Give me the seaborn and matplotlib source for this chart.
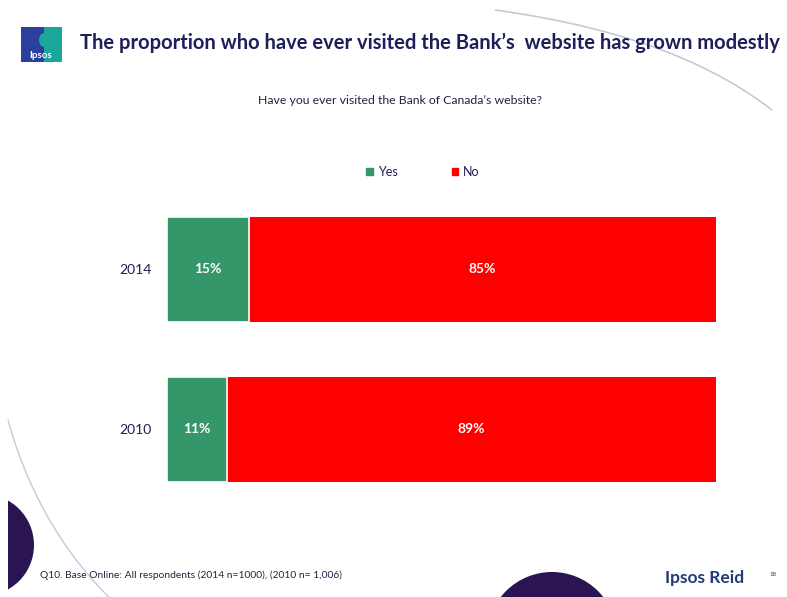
import matplotlib
matplotlib.use("Agg")
import matplotlib.pyplot as plt
import matplotlib.patches as mpatches
from matplotlib.path import Path
import seaborn as sns
import pandas as pd

# Survey results
years = ["2014", "2010"]
yes_pct = [15, 11]
no_pct = [85, 89]
series_names = ["Yes", "No"]
colors = {"Yes": "#35966A", "No": "#FF0000"}

W, H = 787, 597
sns.set_theme(style="white")
plt.rcParams["font.family"] = ["Lato", "DejaVu Sans"]

fig = plt.figure(figsize=(W / 100, H / 100), dpi=100)
fig.patch.set_facecolor("white")

def fx(px):
    return px / W

def fy(py):
    return 1 - py / H

navy = "#1E1E5A"

# --- background decorations ---
deco = fig.add_axes([0, 0, 1, 1], zorder=0)
deco.set_xlim(0, W)
deco.set_ylim(H, 0)
deco.axis("off")
deco.add_patch(mpatches.Circle((-17, 545), 51, color="#2A1452", lw=0))
deco.add_patch(mpatches.Rectangle((0, 480), 8, 120, color="white", lw=0, zorder=2))
deco.add_patch(mpatches.Circle((552, 637), 65, color="#2A1452", lw=0))
curve1 = Path([(495, 10), (640, 30), (720, 70), (772, 110)],
              [Path.MOVETO, Path.CURVE4, Path.CURVE4, Path.CURVE4])
deco.add_patch(mpatches.PathPatch(curve1, fill=False, ec="#C8C8D8", lw=1.2))
curve2 = Path([(8, 420), (30, 500), (70, 560), (112, 600)],
              [Path.MOVETO, Path.CURVE4, Path.CURVE4, Path.CURVE4])
deco.add_patch(mpatches.PathPatch(curve2, fill=False, ec="#C8C8D8", lw=1.0))

# logo
deco.add_patch(mpatches.Rectangle((21, 27), 41, 35, color="#2B3F9C", lw=0))
deco.add_patch(mpatches.Rectangle((44, 27), 18, 35, color="#19A79C", lw=0))
deco.add_patch(mpatches.Ellipse((44, 40), 10, 14, color="#19A79C", lw=0))
deco.text(41, 55, "Ipsos", color="white", fontsize=7, fontweight="bold",
          ha="center", va="center")

# --- titles ---
fig.text(fx(80), fy(43), "The proportion who have ever visited the Bank\u2019s  website has grown modestly",
         fontsize=14.5, fontweight="bold", color=navy, ha="left", va="center")
fig.text(fx(400), fy(101), "Have you ever visited the Bank of Canada\u2019s website?",
         fontsize=8.8, color="#222244", ha="center", va="center")

# --- bar chart ---
df = pd.DataFrame({"year": years, "Yes": yes_pct, "No": no_pct})
df["total"] = df["Yes"] + df["No"]

ax = fig.add_axes([fx(167), fy(500), fx(716) - fx(167), (500 - 200) / H], zorder=1)
ax.patch.set_alpha(0)
sns.barplot(data=df, y="year", x="total", color=colors["No"], saturation=1,
            width=0.656, orient="h", ax=ax, edgecolor="none")
sns.barplot(data=df, y="year", x="Yes", color=colors["Yes"], saturation=1,
            width=0.656, orient="h", ax=ax, edgecolor="white", linewidth=1.2)
ax.set_xlim(0, 100)
ax.set_ylim(1.4406, -0.434)
ax.set_xlabel("")
ax.set_ylabel("")
ax.set_xticks([])
ax.tick_params(axis="y", length=0, pad=11, labelsize=10, labelcolor=navy)
for s in ax.spines.values():
    s.set_visible(False)

for i, (y, n) in enumerate(zip(yes_pct, no_pct)):
    ax.text(y / 2, i, f"{y}%", color="white", fontsize=10, fontweight="bold",
            ha="center", va="center")
    ax.text(y + n / 2, i, f"{n}%", color="white", fontsize=10, fontweight="bold",
            ha="center", va="center")

handles = [mpatches.Patch(color=colors[s], label=s) for s in series_names]
fig.legend(handles=handles, loc="center", bbox_to_anchor=(fx(423), fy(172)),
           ncol=2, frameon=False, fontsize=9, handlelength=0.55, handleheight=0.55,
           columnspacing=4.3, handletextpad=0.4, labelcolor=navy)

# --- footer ---
fig.text(fx(40), fy(575), "Q10. Base Online: All respondents (2014 n=1000), (2010 n= 1,006)",
         fontsize=7.4, color="#222244", ha="left", va="center")
fig.text(fx(665), fy(578), "Ipsos Reid", fontsize=12.5, fontweight="bold",
         color="#233A7A", ha="left", va="center")
fig.text(fx(773), fy(575), "18", fontsize=4.5, color="#333355", ha="center", va="center")

fig.savefig("out.png", dpi=100)
